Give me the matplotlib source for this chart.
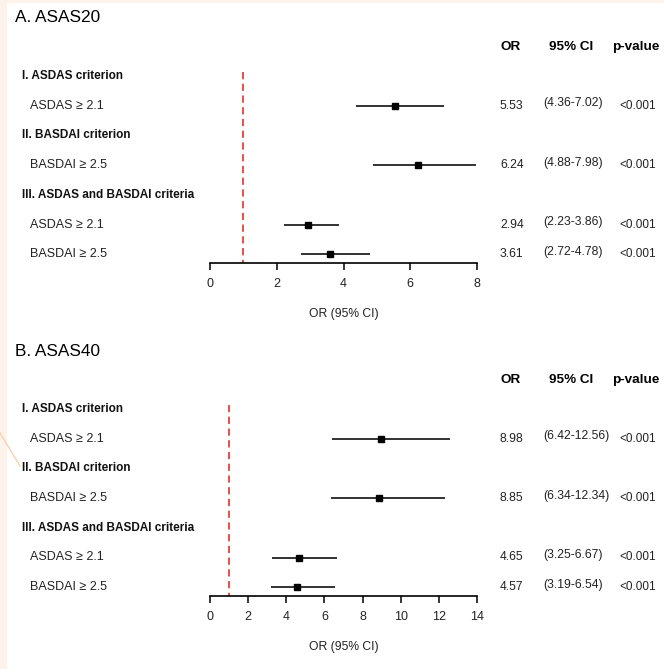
import matplotlib
matplotlib.use("Agg")
import matplotlib.pyplot as plt
import matplotlib.transforms as mtransforms
from matplotlib.patches import Rectangle
from matplotlib.lines import Line2D

plt.rcParams["font.family"] = ["Liberation Sans", "DejaVu Sans"]

row_labels = ["I. ASDAS criterion", "ASDAS \u2265 2.1", "II. BASDAI criterion",
              "BASDAI \u2265 2.5", "III. ASDAS and BASDAI criteria",
              "ASDAS \u2265 2.1", "BASDAI \u2265 2.5"]
row_is_header = [True, False, True, False, True, False, False]
data_rows = [1, 3, 5, 6]

titles = ["A. ASAS20", "B. ASAS40"]

asas20_or = [5.53, 6.24, 2.94, 3.61]
asas20_lo = [4.36, 4.88, 2.23, 2.72]
asas20_hi = [7.02, 7.98, 3.86, 4.78]
asas20_p = ["<0.001", "<0.001", "<0.001", "<0.001"]

asas40_or = [8.98, 8.85, 4.65, 4.57]
asas40_lo = [6.42, 6.34, 3.25, 3.19]
asas40_hi = [12.56, 12.34, 6.67, 6.54]
asas40_p = ["<0.001", "<0.001", "<0.001", "<0.001"]

panels = [
    dict(title=titles[0], orv=asas20_or, lo=asas20_lo, hi=asas20_hi, p=asas20_p,
         xmax=8, ticks=[0, 2, 4, 6, 8], top=18),
    dict(title=titles[1], orv=asas40_or, lo=asas40_lo, hi=asas40_hi, p=asas40_p,
         xmax=14, ticks=[0, 2, 4, 6, 8, 10, 12, 14], top=351),
]

W, H = 664, 669
fig = plt.figure(figsize=(W / 100, H / 100), dpi=100)
fig.patch.set_facecolor("#fdf3ea")
fig.patches.append(Rectangle((7 / W, 0), 1 - 7 / W, 1 - 3 / H, transform=fig.transFigure,
                             facecolor="white", edgecolor="none", zorder=-10))
fig.lines.append(Line2D([0, 20 / W], [1 - 433 / H, 1 - 466 / H], transform=fig.transFigure,
                        color="#f6d3b4", lw=1))

spacing = 29.7
for pn in panels:
    title_y = pn["top"]
    row0 = title_y + 58          # pixel y of first row
    axis_y = row0 + 6.3 * spacing
    ax_top = row0 - 0.6 * spacing
    ax = fig.add_axes([210 / W, 1 - axis_y / H, 267 / W, (axis_y - ax_top) / H])
    ax.set_xlim(0, pn["xmax"])
    ax.set_ylim(6.3, -0.6)
    for s in ["top", "right", "left"]:
        ax.spines[s].set_visible(False)
    ax.spines["bottom"].set_linewidth(1.2)
    ax.set_yticks([])
    ax.set_xticks(pn["ticks"])
    ax.tick_params(axis="x", direction="out", length=5, width=1.1, pad=6, labelsize=9,
                   labelcolor="#222222")
    ax.set_xlabel("OR (95% CI)", fontsize=8.7, labelpad=13, color="#222222")
    ax.patch.set_alpha(0)

    ax.vlines(1, -0.15, 6.3, colors="#e8403a", linestyles=(0, (4, 2.5)), lw=1.3)

    for i, r in enumerate(data_rows):
        ax.hlines(r, pn["lo"][i], pn["hi"][i], colors="#222222", lw=1.3)
        ax.plot(pn["orv"][i], r, marker="s", color="black", ms=5)

    tr = mtransforms.blended_transform_factory(fig.transFigure, ax.transData)
    fig.text(15 / W, 1 - title_y / H, pn["title"], fontsize=12.4, va="center", ha="left")
    hdr_y = -(row0 - (title_y + 29)) / spacing
    ax.text(501 / W, hdr_y, "OR", transform=tr, fontsize=9.7, fontweight="bold",
            va="center", ha="left", clip_on=False)
    ax.text(571 / W, hdr_y, "95% CI", transform=tr, fontsize=9.7, fontweight="bold",
            va="center", ha="center", clip_on=False)
    ax.text(612 / W, hdr_y, "p-value", transform=tr, fontsize=9.7, fontweight="bold",
            va="center", ha="left", clip_on=False)

    for r, (lab, hd) in enumerate(zip(row_labels, row_is_header)):
        ax.text((22 if hd else 30) / W, r, lab, transform=tr, fontsize=8.5 if hd else 9,
                fontweight="bold" if hd else "normal", va="center", ha="left",
                color="#111111" if hd else "#222222", clip_on=False)

    for i, r in enumerate(data_rows):
        ax.text(500 / W, r, f"{pn['orv'][i]:.2f}", transform=tr, fontsize=8.7,
                va="center", ha="left", color="#222222", clip_on=False)
        ax.text(543 / W, r - 0.08, f"({pn['lo'][i]:.2f}-{pn['hi'][i]:.2f})", transform=tr,
                fontsize=8.7, va="center", ha="left", color="#222222", clip_on=False)
        ax.text(619 / W, r, pn["p"][i], transform=tr, fontsize=8.5,
                va="center", ha="left", color="#222222", clip_on=False)

fig.savefig("out.png", dpi=100, facecolor=fig.get_facecolor())
